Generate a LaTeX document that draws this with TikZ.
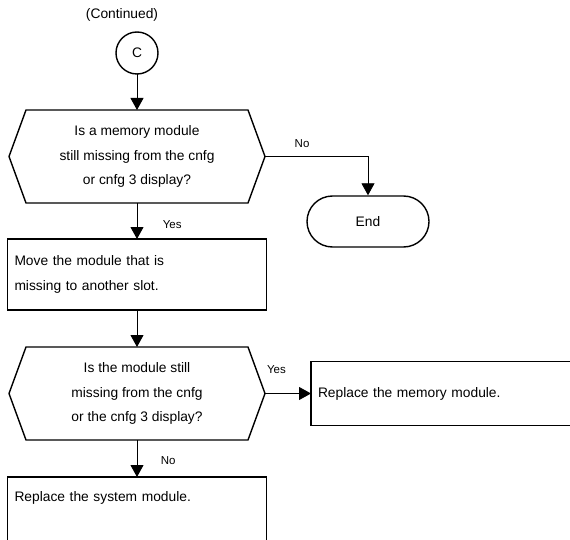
\documentclass[tikz,border=0pt]{standalone}
\usepackage{fontspec}
\setmainfont{Liberation Sans}
\usetikzlibrary{positioning,calc,arrows.meta}

\begin{document}
\begin{tikzpicture}[x=1pt,y=-1pt,
font=\fontsize{13.8pt}{24.5pt}\selectfont,
edge/.style={-{Triangle[length=12pt,width=13pt]},line width=0.9pt},
box/.style={rectangle,draw,line width=1.4pt,align=left,inner xsep=7pt,outer sep=0pt},
question/.style={rectangle,minimum width=222pt,minimum height=93pt,align=center,inner sep=0pt,outer sep=0pt},
hexline/.style={draw,line width=1.4pt},
tag/.style={font=\fontsize{11.5pt}{13pt}\selectfont}]

\useasboundingbox (0,0) rectangle (570,540);
\clip (0,0) rectangle (570,540);

% nodes
\node (cont) at (122,15) {(Continued)};
\node[circle,draw,line width=1.4pt,minimum size=42pt,inner sep=0pt,outer sep=0pt] (c) at (137,53) {C};
\node[question,below=36pt of c] (q1) {Is a memory module\\still missing from the cnfg\\or cnfg 3 display?};
\node[box,below=36pt of q1,text width=245pt,minimum height=71pt] (move) {Move the module that is\\missing to another slot.};
\node[question,below=37pt of move] (q2) {Is the module still\\missing from the cnfg\\or the cnfg 3 display?};
\node[box,below=37pt of q2,text width=245pt,text height=21pt,text depth=70pt] (sys) {Replace the system module.};

% tips of the hexagons
\coordinate (q1 tip) at ([xshift=17pt]q1.east);
\coordinate (q2 tip) at ([xshift=17pt]q2.east);

\node[rectangle,rounded corners=25.5pt,draw,line width=1.4pt,minimum width=122pt,minimum height=51pt] (end) at (368,221.5) {End};
\node[box,right=46pt of q2 tip,text width=280pt,minimum height=64pt] (mem) {Replace the memory module.};

% hexagons
\foreach \q in {q1,q2}
  \draw[hexline] (\q.north west) -- (\q.north east) -- ([xshift=17pt]\q.east) -- (\q.south east) -- (\q.south west) -- ([xshift=-17pt]\q.west) -- cycle;

% edges
\draw[edge] (c) -- (q1);
\draw[edge] (q1) -- (move) node[tag,pos=.6,right=22pt] {Yes};
\draw[edge] (move) -- (q2);
\draw[edge] (q2) -- (sys) node[tag,pos=.55,right=20pt] {No};
\draw[edge] (q1 tip) -| (end) node[tag,pos=.18,above=5pt] {No};
\draw[edge] (q2 tip) -- (mem) node[tag,pos=.25,above=16pt] {Yes};
\end{tikzpicture}
\end{document}
